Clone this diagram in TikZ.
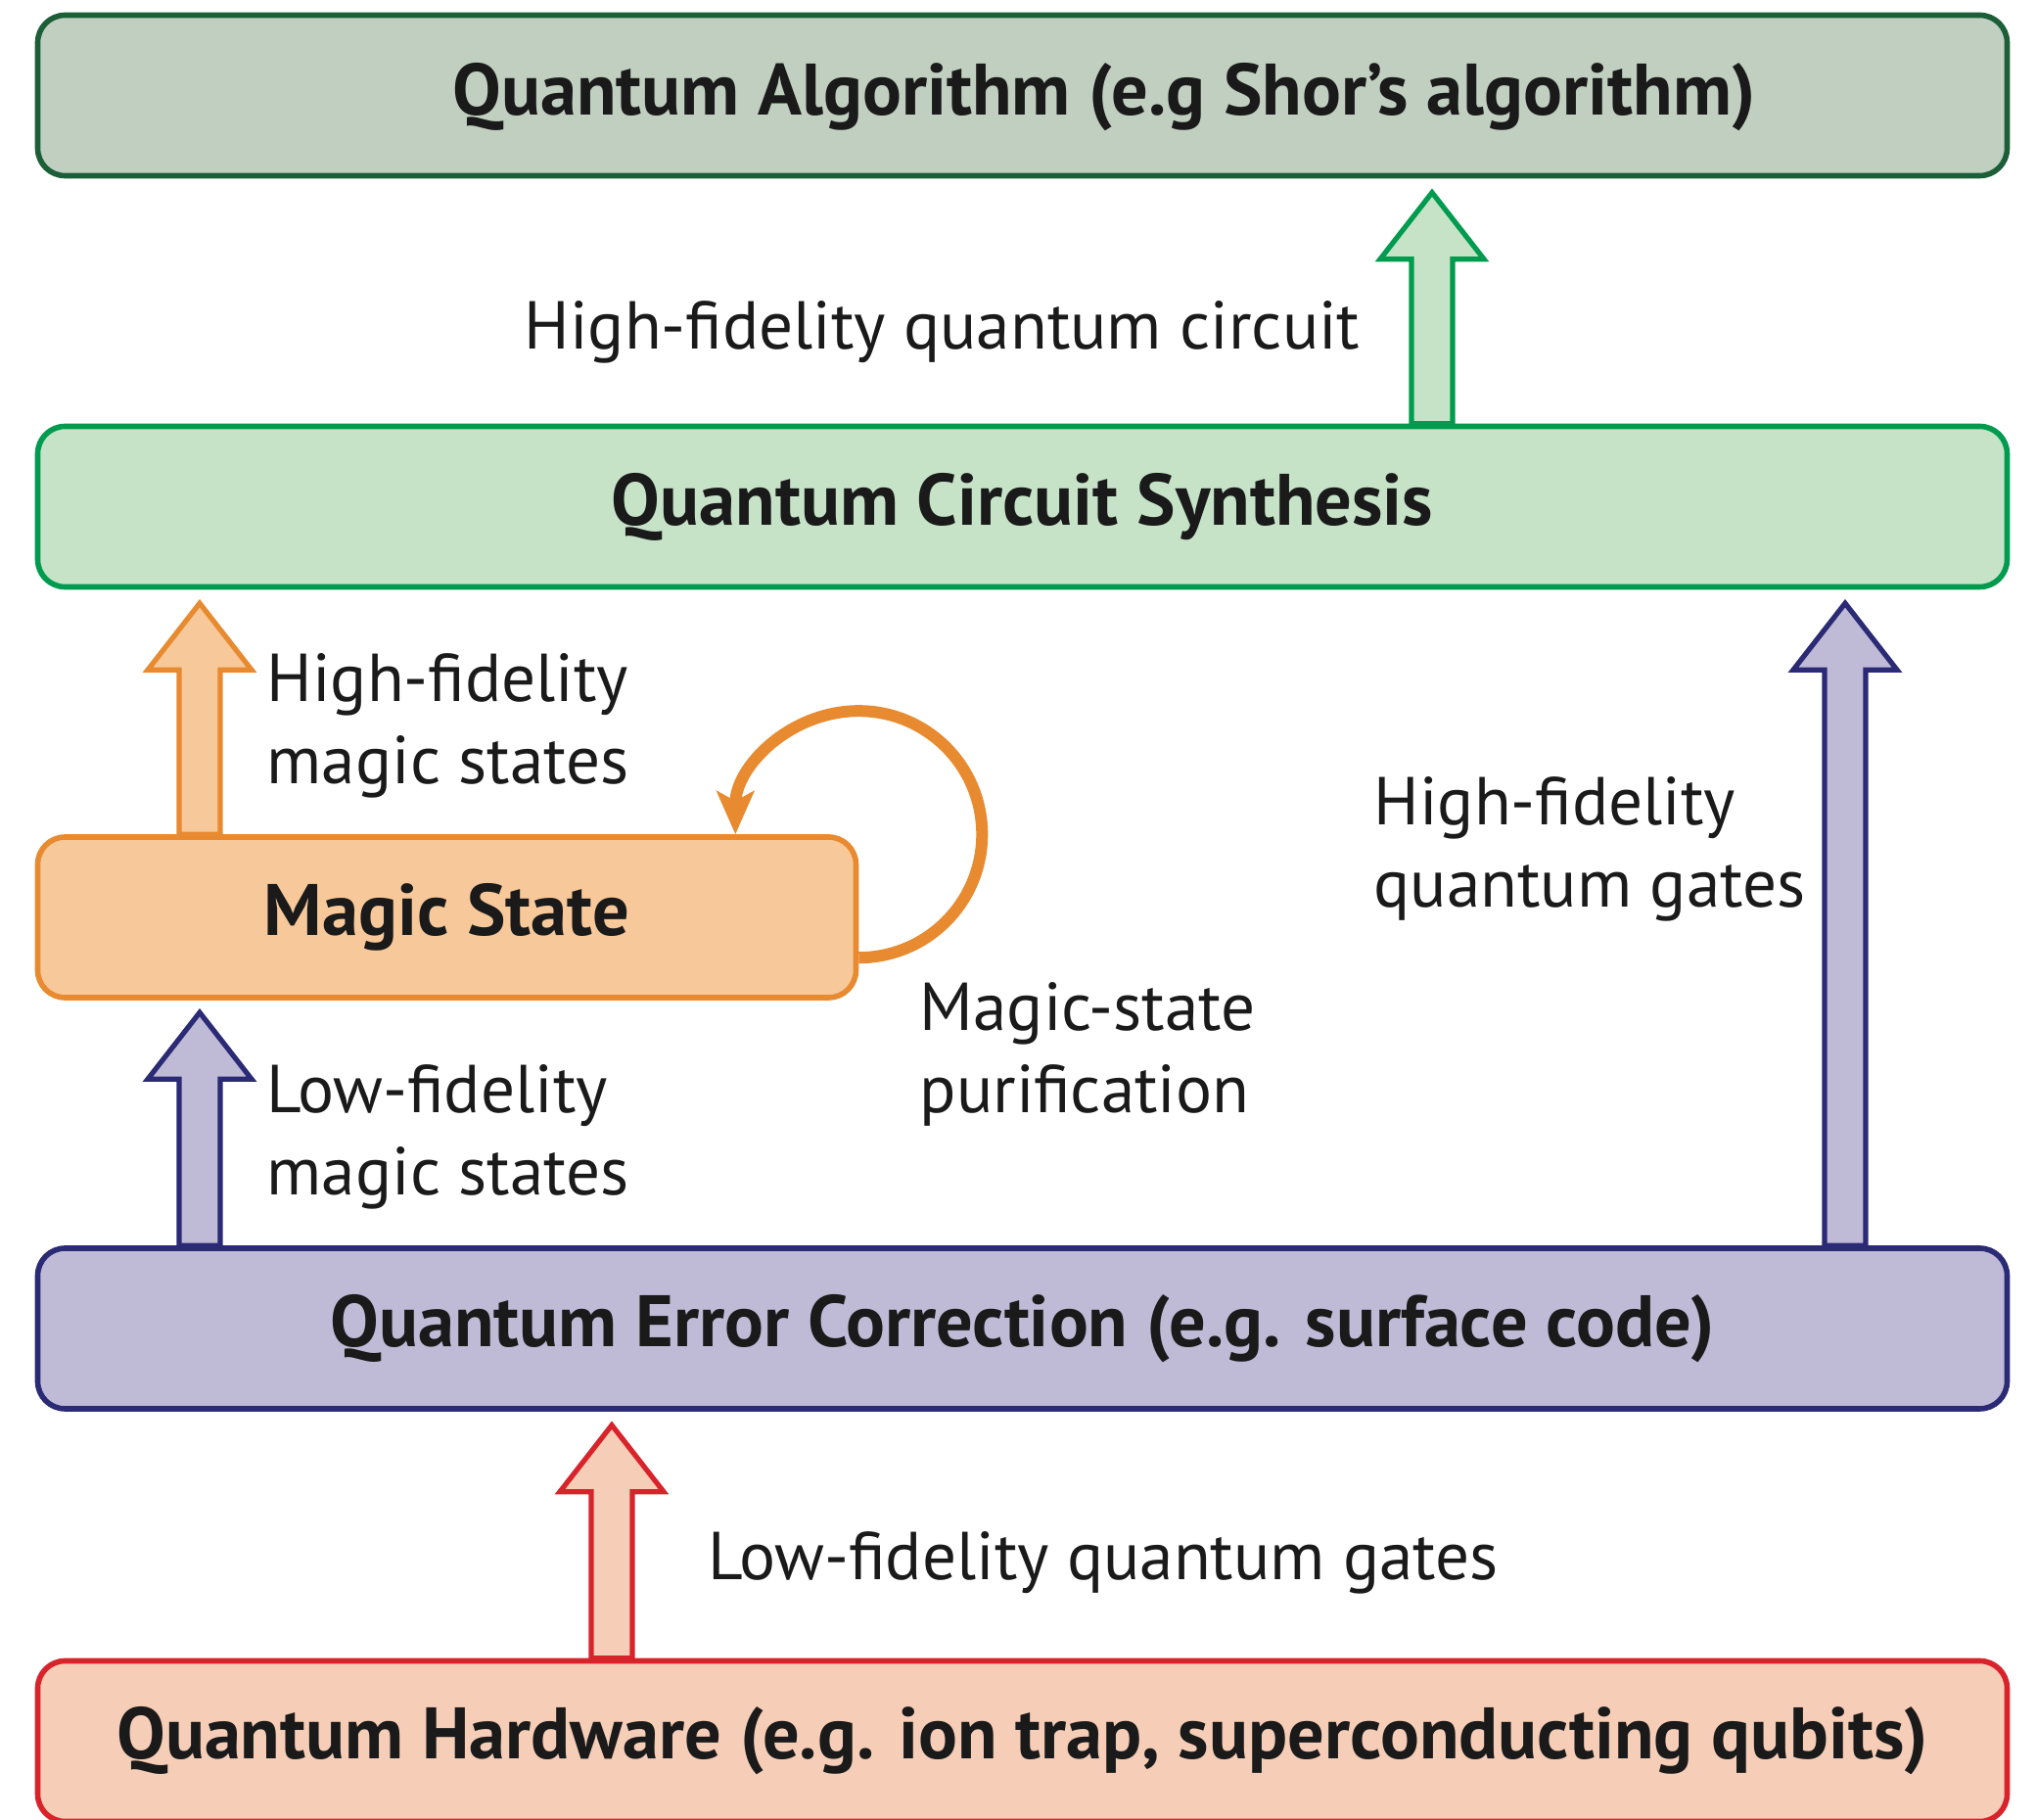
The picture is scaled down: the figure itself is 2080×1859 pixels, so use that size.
\documentclass[tikz,border=0pt]{standalone}
\usepackage{fontspec}
\setmainfont{PT Sans}
\usetikzlibrary{arrows.meta,calc}
\definecolor{algfill}{HTML}{C0CFC0}
\definecolor{algdraw}{HTML}{1C5E38}
\definecolor{synfill}{HTML}{C6E3C8}
\definecolor{syndraw}{HTML}{009B4E}
\definecolor{magfill}{HTML}{F7C89A}
\definecolor{magdraw}{HTML}{E88A2F}
\definecolor{qecfill}{HTML}{BFBAD6}
\definecolor{qecdraw}{HTML}{2B2A74}
\definecolor{hwfill}{HTML}{F6CDB7}
\definecolor{hwdraw}{HTML}{D9232B}
\definecolor{textc}{HTML}{1A1A1A}
% block arrow: #1 style, #2 base coordinate, #3 length (px)
\newcommand\blockup[3]{%
  \draw[#1] (#2) ++(-21,0) -- ++(0,{-(#3-68)}) -- ++(-32,0) -- ++(53,-68)
    -- ++(53,68) -- ++(-32,0) -- ++(0,{#3-68}) -- cycle;}
\begin{document}
\begin{tikzpicture}[x=0.25pt,y=-0.25pt,
  box/.style={draw, rounded corners=7pt, line width=1.4pt, minimum width=503pt,
    minimum height=41pt, inner sep=0pt, font=\bfseries\fontsize{18.6}{22}\selectfont, text=textc},
  btext/.style={inner sep=0pt, font=\bfseries\fontsize{18.6}{22}\selectfont, text=textc},
  lbl/.style={anchor=west, align=left, inner sep=0pt, font=\fontsize{17.3}{21}\selectfont, text=textc},
  blk/.style={line width=1.3pt, line join=miter},
]
\useasboundingbox (0,0) rectangle (2080,1859);

% boxes
\node[box, draw=algdraw, fill=algfill] (alg) at (1044.5,97.5) {};
\node[btext] (algt) at (1128,99) {Quantum Algorithm (e.g Shor’s algorithm)};
\node[box, draw=syndraw, fill=synfill] (syn) at (1044.5,517.5) {Quantum Circuit Synthesis};
\node[box, draw=magdraw, fill=magfill, minimum width=209pt] (mag) at (456.5,937) {Magic State};
\node[box, draw=qecdraw, fill=qecfill] (qec) at (1044.5,1357) {Quantum Error Correction (e.g. surface code)};
\node[box, draw=hwdraw, fill=hwfill] (hw) at (1044.5,1778.5) {Quantum Hardware (e.g. ion trap, superconducting qubits)};

% arrow bases
\coordinate (gb) at (syn.north -| 1463,0);
\coordinate (ob) at (mag.north -| 204,0);
\coordinate (pb1) at (qec.north -| 204,0);
\coordinate (pb2) at (qec.north -| 1885,0);
\coordinate (rb) at (hw.north -| 625,0);

\blockup{blk, draw=syndraw, fill=synfill}{gb}{236}
\blockup{blk, draw=magdraw, fill=magfill}{ob}{236}
\blockup{blk, draw=qecdraw, fill=qecfill}{pb1}{238}
\blockup{blk, draw=qecdraw, fill=qecfill}{pb2}{656}
\blockup{blk, draw=hwdraw, fill=hwfill}{rb}{238}

% purification loop
\coordinate (lc) at (mag.north east);
\draw[magdraw, line width=3pt, -{Stealth[length=11pt,width=9.5pt,inset=2.5pt]}]
  ($(lc)+(0,126)$) arc[start angle=90, end angle=-180, radius=126];

% labels
\node[lbl] (l1) at (535,339) {High-fidelity quantum circuit};
\node[lbl] (l2) at (272,741) {High-fidelity\\magic states};
\node[lbl] (l3) at (272,1161) {Low-fidelity\\magic states};
\node[lbl] (l4) at (939,1077) {Magic-state\\purification};
\node[lbl] (l5) at (1403,867) {High-fidelity\\quantum gates};
\node[lbl] (l6) at (723,1596) {Low-fidelity quantum gates};
\end{tikzpicture}
\end{document}
